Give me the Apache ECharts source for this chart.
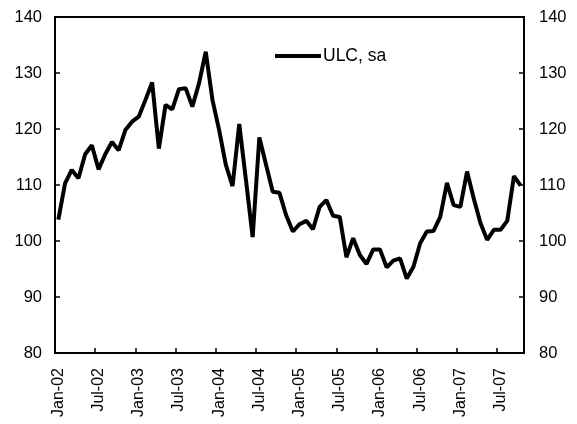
<!DOCTYPE html>
<html>
<head>
<meta charset="utf-8">
<script src="https://cdn.jsdelivr.net/npm/echarts@6/dist/echarts.min.js"></script>
<style>
html,body{margin:0;padding:0;background:#fff;}
#chart{width:577px;height:424px;}
</style>
</head>
<body>
<div id="chart"></div>
<script>
var categories = [
  "Jan-02","Feb-02","Mar-02","Apr-02","May-02","Jun-02","Jul-02","Aug-02","Sep-02","Oct-02","Nov-02","Dec-02",
  "Jan-03","Feb-03","Mar-03","Apr-03","May-03","Jun-03","Jul-03","Aug-03","Sep-03","Oct-03","Nov-03","Dec-03",
  "Jan-04","Feb-04","Mar-04","Apr-04","May-04","Jun-04","Jul-04","Aug-04","Sep-04","Oct-04","Nov-04","Dec-04",
  "Jan-05","Feb-05","Mar-05","Apr-05","May-05","Jun-05","Jul-05","Aug-05","Sep-05","Oct-05","Nov-05","Dec-05",
  "Jan-06","Feb-06","Mar-06","Apr-06","May-06","Jun-06","Jul-06","Aug-06","Sep-06","Oct-06","Nov-06","Dec-06",
  "Jan-07","Feb-07","Mar-07","Apr-07","May-07","Jun-07","Jul-07","Aug-07","Sep-07","Oct-07"
];
var seriesName = "ULC, sa";
var ulc = [
  103.8,110.3,112.7,111.2,115.5,117.1,112.8,115.5,117.7,116.2,119.8,121.3,
  122.2,125.2,128.3,116.5,124.3,123.5,127.1,127.3,124.0,128.2,133.8,125.2,
  119.8,113.6,109.8,120.9,110.9,100.7,118.5,113.6,108.8,108.6,104.6,101.7,
  103.0,103.6,102.1,106.1,107.3,104.5,104.3,97.1,100.5,97.5,95.9,98.5,
  98.5,95.3,96.5,96.9,93.3,95.4,99.6,101.7,101.8,104.3,110.4,106.4,
  106.1,112.4,107.6,103.2,100.2,102.0,102.0,103.6,111.6,109.9
];
var yMin = 80, yMax = 140, yStep = 10;

var chart = echarts.init(document.getElementById('chart'), null, {renderer:'canvas'});
var font = 'Liberation Sans, Arial, sans-serif';
function yAxisDef(pos, margin){
  return {
    type:'value', position:pos, min:yMin, max:yMax, interval:yStep,
    axisLine:{show:true, lineStyle:{color:'#000', width:2}},
    axisTick:{show:true, inside:true, length:5, lineStyle:{color:'#000', width:1.5}},
    splitLine:{show:false},
    axisLabel:{color:'#000', fontSize:16.5, fontFamily:font, margin:margin}
  };
}
chart.setOption({
  animation:false,
  backgroundColor:'#fff',
  grid:{left:55, right:53, top:17, bottom:71, show:true, borderColor:'#000', borderWidth:2, containLabel:false},
  legend:{
    show:true, left:270, top:42, itemWidth:46, itemHeight:4, itemGap:5,
    icon:'rect',
    textStyle:{color:'#000', fontSize:17.5, fontFamily:font, padding:[0,0,0,-3]},
    data:[seriesName]
  },
  xAxis:{
    type:'category', data:categories, boundaryGap:true,
    axisLine:{show:true, lineStyle:{color:'#000', width:2}},
    axisTick:{show:true, inside:true, length:5, interval:5, lineStyle:{color:'#000', width:1.5}},
    axisLabel:{color:'#000', fontSize:16, fontFamily:font, rotate:90, interval:5, margin:15},
    splitLine:{show:false}
  },
  yAxis:[ yAxisDef('left', 13), yAxisDef('right', 15) ],
  series:[{
    name:seriesName, type:'line', data:ulc, yAxisIndex:0,
    symbol:'none', showSymbol:false, smooth:false,
    lineStyle:{color:'#000', width:4},
    itemStyle:{color:'#000'}
  }]
});
</script>
</body>
</html>
